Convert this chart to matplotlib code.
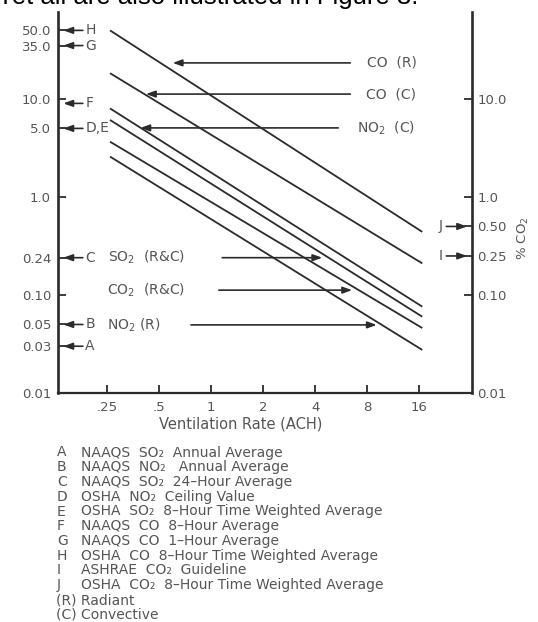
import matplotlib
matplotlib.use("Agg")
import matplotlib.pyplot as plt
from matplotlib.ticker import FixedLocator, FixedFormatter, NullLocator

W, H, DPI = 538, 622, 100

# ventilation rate (ACH) at the ends of each straight line
x_ach = [0.26, 16.7]
# concentration at those two ends
co_r = [50.0, 0.44]
co_c = [18.3, 0.21]
no2_c = [8.0, 0.076]
so2_rc = [6.1, 0.060]
co2_rc = [3.66, 0.046]
no2_r = [2.58, 0.0275]
series = [co_r, co_c, no2_c, so2_rc, co2_rc, no2_r]

x_ticks = [0.25, 0.5, 1, 2, 4, 8, 16]
x_tick_labels = [".25", ".5", "1", "2", "4", "8", "16"]
left_ticks = [0.01, 0.03, 0.05, 0.10, 0.24, 1.0, 5.0, 10.0, 35.0, 50.0]
left_tick_labels = ["0.01", "0.03", "0.05", "0.10", "0.24", "1.0", "5.0",
                    "10.0", "35.0", "50.0"]
right_ticks = [0.01, 0.10, 0.25, 0.50, 1.0, 10.0]
right_tick_labels = ["0.01", "0.10", "0.25", "0.50", "1.0", "10.0"]

std_letters = ["H", "G", "F", "D,E", "C", "B", "A"]
std_values = [50.0, 35.0, 9.0, 5.0, 0.24, 0.05, 0.03]
co2_letters = ["J", "I"]
co2_values = [0.50, 0.25]

legend_keys = ["A", "B", "C", "D", "E", "F", "G", "H", "I", "J", "(R)", "(C)"]
legend_texts = [
    "NAAQS  SO\u2082  Annual Average",
    "NAAQS  NO\u2082   Annual Average",
    "NAAQS  SO\u2082  24\u2013Hour Average",
    "OSHA  NO\u2082  Ceiling Value",
    "OSHA  SO\u2082  8\u2013Hour Time Weighted Average",
    "NAAQS  CO  8\u2013Hour Average",
    "NAAQS  CO  1\u2013Hour Average",
    "OSHA  CO  8\u2013Hour Time Weighted Average",
    "ASHRAE  CO\u2082  Guideline",
    "OSHA  CO\u2082  8\u2013Hour Time Weighted Average",
    "Radiant",
    "Convective",
]

# series label, level, text x, arrow tail x, arrow head x
series_labels = [
    ("CO  (R)", 23.3, 8.0, 6.4, 0.60),
    ("CO  (C)", 11.2, 7.9, 6.4, 0.42),
    ("NO$_2$  (C)", 5.06, 7.0, 5.45, 0.39),
    ("SO$_2$  (R&C)", 0.24, 0.253, 1.16, 4.4),
    ("CO$_2$  (R&C)", 0.112, 0.25, 1.11, 6.55),
    ("NO$_2$ (R)", 0.0495, 0.25, 0.765, 9.1),
]

TXT = "#555555"
INK = "#2b2b2b"

fig = plt.figure(figsize=(W / DPI, H / DPI), dpi=DPI)
ax = fig.add_axes([58 / W, 1 - 393 / H, 414 / W, 381 / H])

for ys in series:
    ax.plot(x_ach, ys, color=INK, lw=1.3, solid_capstyle="butt")

ax.set_xscale("log", base=2)
ax.set_yscale("log")
ax.set_xlim(0.13, 32.4)
ax.set_ylim(0.01, 77)

ax.xaxis.set_major_locator(FixedLocator(x_ticks))
ax.xaxis.set_major_formatter(FixedFormatter(x_tick_labels))
ax.xaxis.set_minor_locator(NullLocator())
ax.yaxis.set_major_locator(FixedLocator(left_ticks))
ax.yaxis.set_major_formatter(FixedFormatter(left_tick_labels))
ax.yaxis.set_minor_locator(NullLocator())

ax.tick_params(axis="both", direction="in", length=6, width=1.3, color=INK,
               labelcolor=TXT, labelsize=9.5)
ax.tick_params(axis="x", pad=6)
ax.tick_params(axis="y", pad=5)

ax.spines["top"].set_visible(False)
for side in ["left", "right", "bottom"]:
    ax.spines[side].set_color(INK)
ax.spines["left"].set_linewidth(1.9)
ax.spines["right"].set_linewidth(1.9)
ax.spines["bottom"].set_linewidth(1.6)

ax2 = ax.twinx()
ax2.set_yscale("log")
ax2.set_ylim(ax.get_ylim())
ax2.yaxis.set_major_locator(FixedLocator(right_ticks))
ax2.yaxis.set_major_formatter(FixedFormatter(right_tick_labels))
ax2.yaxis.set_minor_locator(NullLocator())
ax2.tick_params(axis="y", direction="in", length=6, width=1.3, color=INK,
                labelcolor=TXT, labelsize=9.5, pad=4)
for side in ["top", "left", "bottom", "right"]:
    ax2.spines[side].set_visible(False)

arrow = dict(arrowstyle="-|>,head_length=0.55,head_width=0.2",
             color=INK, lw=1.2, shrinkA=0, shrinkB=0)

for label, lvl, xt, xtail, xhead in series_labels:
    ax.annotate("", xy=(xhead, lvl), xytext=(xtail, lvl), arrowprops=arrow)
    ax.text(xt, lvl, label, ha="left", va="center", fontsize=10, color=TXT)

ytr = ax.get_yaxis_transform()
for letter, v in zip(std_letters, std_values):
    ax.annotate("", xy=(0.013, v), xytext=(0.060, v), xycoords=ytr,
                textcoords=ytr, arrowprops=arrow)
    ax.text(0.066, v, letter, transform=ytr, ha="left", va="center",
            fontsize=10, color=TXT)

for letter, v in zip(co2_letters, co2_values):
    ax.annotate("", xy=(0.988, v), xytext=(0.938, v), xycoords=ytr,
                textcoords=ytr, arrowprops=arrow)
    ax.text(0.928, v, letter, transform=ytr, ha="right", va="center",
            fontsize=10, color=TXT)

fig.text(523 / W, 1 - 238 / H, "% CO$_2$", rotation=90, ha="center",
         va="center", fontsize=9.5, color=TXT)
fig.text(241 / W, 1 - 424 / H, "Ventilation Rate (ACH)", ha="center",
         va="center", fontsize=10.5, color=TXT)

# partly cropped caption line at the very top
fig.text(-0.006, 1 - 4 / H, "Yet all are also illustrated in Figure 3.",
         fontsize=18.5, family="Liberation Sans", va="baseline",
         color="black")

for i, (key, desc) in enumerate(zip(legend_keys, legend_texts)):
    y = 1 - (452.5 + i * 14.75) / H
    if key.startswith("("):
        fig.text(56 / W, y, f"{key} {desc}", ha="left", va="center",
                 fontsize=10, color=TXT)
    else:
        fig.text(57 / W, y, key, ha="left", va="center", fontsize=10,
                 color=TXT)
        fig.text(81 / W, y, desc, ha="left", va="center", fontsize=10,
                 color=TXT)

fig.savefig("out.png", dpi=DPI)
plt.close("all")
